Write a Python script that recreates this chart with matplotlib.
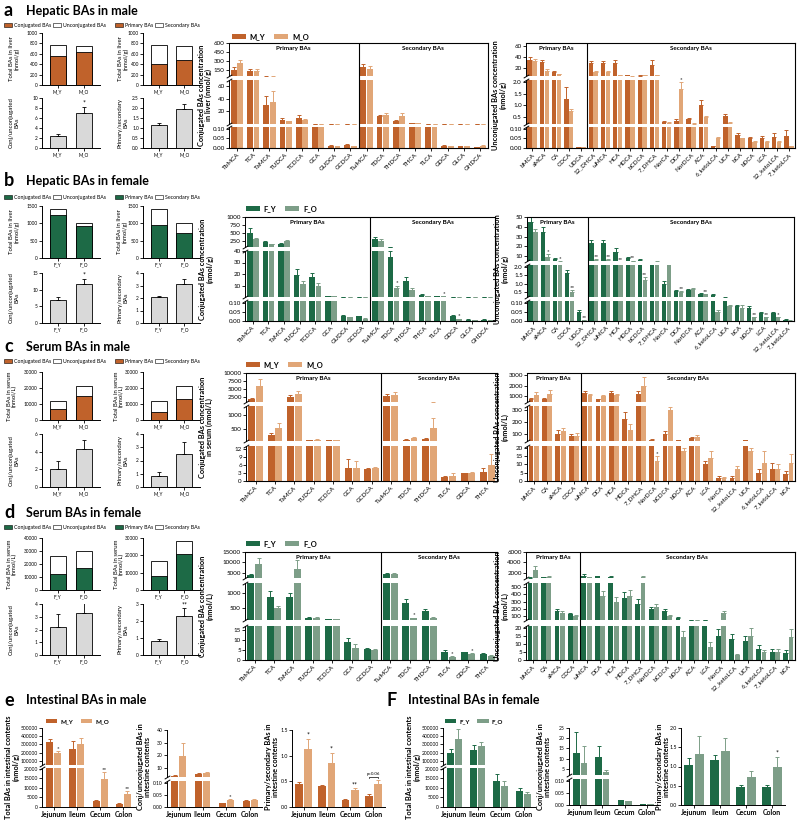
import numpy as np
import matplotlib.pyplot as plt
from matplotlib.patches import Patch

plt.rcParams['font.family'] = ['Lato', 'DejaVu Sans']

W, H = 800, 832
M_COL = ['#C0622B', '#E1A677']
F_COL = ['#1D6A46', '#7D9E88']
GRAY = '#D9D9D9'

# ---------------- data ----------------
male_grp = ['M_Y', 'M_O']
female_grp = ['F_Y', 'F_O']

# hepatic, small plots
a_total = [770, 750]
a_conj = [550, 640]
a_prim = [410, 490]
a_cu, a_cu_err = [2.5, 7.0], [0.3, 1.3]
a_ps, a_ps_err = [1.17, 1.93], [0.08, 0.27]

b_total = [1400, 1000]
b_conj = [1250, 920]
b_prim = [950, 720]
b_cu, b_cu_err = [7.0, 11.8], [0.8, 1.5]
b_ps, b_ps_err = [2.1, 3.1], [0.1, 0.45]

c_total = [12000, 21000]
c_conj = [7000, 15000]
c_prim = [5000, 13000]
c_cu, c_cu_err = [2.0, 4.3], [1.0, 1.0]
c_ps, c_ps_err = [0.8, 2.5], [0.3, 0.9]

d_total = [26000, 30000]
d_conj = [12000, 17000]
d_total2 = [17000, 28000]
d_prim = [8000, 21000]
d_cu, d_cu_err = [2.2, 3.3], [1.0, 0.8]
d_ps, d_ps_err = [0.8, 2.3], [0.15, 0.45]

# hepatic conjugated
liver_conj = ['TbMCA', 'TCA', 'TaMCA', 'TUDCA', 'TCDCA', 'GCA', 'GUDCA', 'GCDCA',
              'TωMCA', 'TDCA', 'THDCA', 'THCA', 'TLCA', 'GDCA', 'GLCA', 'GHDCA']
a_conj_y = [150, 140, 30, 7, 10, 0.5, 0.012, 0.015, 200, 13, 5, 1.5, 0.6, 0.012, 0.010, 0.005]
a_conj_y_err = [50, 30, 15, 2, 4, 0.05, 0.004, 0.004, 50, 2, 1, 0.3, 0.1, 0.003, 0.003, 0.002]
a_conj_o = [260, 140, 35, 4, 7, 0.5, 0.008, 0.010, 170, 15, 13, 1.0, 0.5, 0.008, 0.008, 0.012]
a_conj_o_err = [60, 20, 18, 1, 1, 0.05, 0.002, 0.002, 40, 2, 5, 0.2, 0.1, 0.002, 0.002, 0.004]

b_conj_y = [500, 200, 150, 19, 17, 0.5, 0.03, 0.025, 300, 35, 14, 2, 0.5, 0.03, 0.008, 0.008]
b_conj_y_err = [150, 30, 20, 5, 4, 0.05, 0.005, 0.005, 80, 5, 3, 0.3, 0.05, 0.004, 0.002, 0.002]
b_conj_o = [300, 150, 230, 11, 10, 0.5, 0.02, 0.012, 250, 8, 6, 1.0, 0.5, 0.01, 0.005, 0.006]
b_conj_o_err = [50, 10, 40, 3, 2, 0.05, 0.003, 0.003, 50, 2, 2, 0.2, 0.1, 0.003, 0.001, 0.001]
b_conj_sig = {9: '*', 12: '*', 13: '*'}

# hepatic unconjugated
liver_unc = ['bMCA', 'aMCA', 'CA', 'CDCA', 'UDCA', '12_DHCA', 'ωMCA', 'HCA', 'HDCA', 'bCDCA',
             '7_DHCA', 'NorCA', 'DCA', 'NorDCA', 'ACA', '6_ketoLCA', 'UCA', 'bCA', 'bDCA',
             'LCA', '12_ketoLCA', '7_ketoLCA']
a_unc_y = [35, 30, 12, 1.3, 0.003, 28, 28, 28, 6, 5, 25, 0.3, 0.35, 0.4, 1.0, 0.01, 0.55,
           0.07, 0.05, 0.055, 0.06, 0.065]
a_unc_y_err = [5, 4, 2, 0.5, 0.001, 5, 4, 6, 1, 1, 10, 0.05, 0.05, 0.05, 0.25, 0.003, 0.1,
               0.01, 0.01, 0.01, 0.02, 0.03]
a_unc_o = [33, 15, 8, 0.75, 0.005, 12, 12, 6, 4, 6, 6, 0.25, 1.7, 0.2, 0.5, 0.05, 0.25,
           0.05, 0.03, 0.03, 0.03, 0.01]
a_unc_o_err = [3, 2, 1, 0.1, 0.002, 2, 2, 1, 0.5, 1, 1, 0.03, 0.3, 0.03, 0.05, 0.01, 0.03,
               0.005, 0.005, 0.005, 0.005, 0.003]
a_unc_sig = {12: '*'}

b_unc_y = [45, 35, 7, 1.6, 0.05, 23, 23, 14, 8, 6, 3, 1.0, 0.55, 0.6, 0.4, 0.3, 0.15,
           0.08, 0.07, 0.045, 0.045, 0.008]
b_unc_y_err = [5, 5, 1, 0.2, 0.01, 3, 3, 4, 1, 1, 0.5, 0.15, 0.05, 0.05, 0.05, 0.05, 0.03,
               0.01, 0.01, 0.005, 0.005, 0.002]
b_unc_o = [35, 9, 4, 0.5, 0.003, 6, 6, 3, 5, 1.2, 4, 3, 0.5, 0.7, 0.35, 0.05, 0.08,
           0.07, 0.02, 0.02, 0.02, 0.002]
b_unc_o_err = [3, 3, 0.5, 0.1, 0.001, 1, 1, 0.5, 0.5, 0.2, 0.5, 0.5, 0.05, 0.05, 0.03, 0.01,
               0.01, 0.02, 0.003, 0.003, 0.003, 0.001]
b_unc_sig = {1: '*', 2: '*', 3: '**', 4: '**', 5: '**', 6: '**', 7: '**', 8: '**', 9: '**',
             12: '**', 14: '**', 18: '**', 19: '**', 20: '*'}

# serum conjugated
serum_conj = ['TbMCA', 'TCA', 'TaMCA', 'TUDCA', 'TCDCA', 'GCA', 'GCDCA',
              'TωMCA', 'TDCA', 'THDCA', 'TLCA', 'GDCA', 'THCA']
c_conj_y = [2000, 300, 2500, 130, 130, 5, 4.5, 2800, 150, 160, 1.5, 2.8, 3.5]
c_conj_y_err = [300, 80, 800, 10, 10, 3, 0.3, 600, 20, 30, 0.5, 0.3, 1.5]
c_conj_o = [6000, 550, 3500, 150, 140, 5, 5, 3200, 200, 550, 2, 3, 6]
c_conj_o_err = [2000, 150, 1000, 15, 10, 2.5, 0.3, 800, 30, 350, 1, 0.3, 4]

d_conj_y = [4000, 850, 850, 180, 130, 9, 5.5, 4500, 650, 400, 4, 3.8, 3]
d_conj_y_err = [500, 200, 150, 20, 10, 2, 0.3, 500, 150, 50, 1, 0.3, 0.5]
d_conj_o = [9000, 500, 7000, 170, 120, 6, 5.2, 4500, 150, 180, 1.5, 3, 2]
d_conj_o_err = [3000, 80, 4000, 20, 10, 2, 0.3, 500, 30, 20, 0.3, 0.3, 0.5]
d_conj_sig = {8: '*', 10: '*', 11: '*'}

# serum unconjugated
serum_unc = ['bMCA', 'CA', 'aMCA', 'CDCA', 'ωMCA', 'DCA', 'HCA', 'HDCA', '7_DHCA', 'NorDCA',
             'bCDCA', 'bDCA', 'ACA', 'LCA', 'NorCA', '12_ketoLCA', 'UCA', '6_ketoLCA',
             '7_ketoLCA', 'bCA']
c_unc_y = [700, 700, 100, 80, 1300, 700, 1300, 220, 1200, 50, 95, 45, 65, 10, 2, 2, 45, 5, 7, 4]
c_unc_y_err = [100, 100, 30, 20, 200, 50, 200, 60, 300, 5, 25, 5, 10, 2, 1, 1, 5, 2, 4, 2]
c_unc_o = [1100, 1200, 120, 85, 1100, 1000, 1100, 130, 2000, 12, 300, 18, 75, 14, 2, 7, 18, 11, 7, 11]
c_unc_o_err = [300, 400, 30, 20, 150, 100, 150, 50, 800, 3, 20, 2, 15, 4, 0.5, 2, 2, 7, 3, 5]
c_unc_sig = {9: '*'}

d_unc_y = [1050, 1100, 170, 130, 1400, 1300, 1200, 350, 270, 200, 170, 75, 50, 50, 15, 13,
           12, 7, 5, 4.5]
d_unc_y_err = [100, 100, 30, 20, 300, 100, 100, 80, 60, 30, 30, 10, 5, 5, 4, 3, 3, 2, 2, 1.5]
d_unc_o = [2600, 1200, 140, 110, 1100, 380, 300, 380, 1200, 230, 100, 14, 50, 8, 140, 3, 15,
           5, 5, 14]
d_unc_o_err = [800, 100, 30, 10, 100, 60, 60, 80, 100, 30, 20, 4, 5, 3, 30, 1, 5, 1, 1.5, 5]

# intestine
gut = ['Jejunum', 'Ileum', 'Cecum', 'Colon']
e_tot_y, e_tot_y_err = [330000, 240000, 3200, 1800], [40000, 100000, 300, 200]
e_tot_o, e_tot_o_err = [200000, 310000, 14500, 7000], [20000, 70000, 4000, 1500]
e_tot_sig = {0: '*', 2: '**', 3: '**'}
e_cu_y, e_cu_y_err = [3.5, 5.0, 0.015, 0.025], [0.3, 1.0, 0.002, 0.004]
e_cu_o, e_cu_o_err = [19.5, 5.5, 0.03, 0.03], [10, 1.0, 0.005, 0.004]
e_cu_sig = {2: '*'}
e_ps_y, e_ps_y_err = [0.44, 0.40, 0.14, 0.22], [0.04, 0.03, 0.01, 0.03]
e_ps_o, e_ps_o_err = [1.13, 0.86, 0.33, 0.45], [0.2, 0.2, 0.04, 0.08]
e_ps_sig = {0: '*', 1: '*', 2: '**'}

f_tot_y, f_tot_y_err = [190000, 235000, 13500, 8300], [60000, 60000, 4000, 1500]
f_tot_o, f_tot_o_err = [370000, 285000, 11000, 6700], [120000, 40000, 2500, 1200]
f_cu_y, f_cu_y_err = [13, 11, 0.02, 0.003], [10, 5, 0.003, 0.001]
f_cu_o, f_cu_o_err = [8, 3.5, 0.015, 0.004], [8, 1, 0.002, 0.001]
f_ps_y, f_ps_y_err = [1.03, 1.16, 0.46, 0.46], [0.2, 0.15, 0.05, 0.05]
f_ps_o, f_ps_o_err = [1.33, 1.4, 0.74, 1.0], [0.45, 0.35, 0.15, 0.25]
f_ps_sig = {3: '*'}

# ---------------- helpers ----------------
fig = plt.figure(figsize=(W / 100, H / 100), dpi=100)


def px(x0, y0, x1, y1):
    return [x0 / W, 1 - y1 / H, (x1 - x0) / W, (y1 - y0) / H]


def style(ax, fs=4.5):
    for s in ('top', 'right'):
        ax.spines[s].set_visible(False)
    for s in ('left', 'bottom'):
        ax.spines[s].set_linewidth(0.7)
    ax.tick_params(labelsize=fs, length=2, width=0.6, pad=1)


def ylab(x, yc, text, fs=4.3, bold=False):
    fig.text(x / W, 1 - yc / H, text, rotation=90, ha='center', va='center', fontsize=fs,
             fontweight='bold' if bold else 'normal', linespacing=1.05)


def title(x, y, letter, text):
    fig.text(x / W, 1 - y / H, letter, fontsize=13, fontweight='bold', va='center')
    fig.text((x + 22) / W, 1 - y / H, text, fontsize=9, fontweight='bold', va='center')


def stack_legend(x, y, col, labs):
    h = [Patch(facecolor=col, edgecolor='k', lw=0.4), Patch(facecolor='white', edgecolor='k', lw=0.4)]
    fig.legend(h, labs, loc='center left', bbox_to_anchor=(x / W, 1 - y / H), ncol=2, fontsize=3.8,
               frameon=False, handlelength=1.6, handleheight=0.7, handletextpad=0.3,
               columnspacing=0.3, borderpad=0, borderaxespad=0)


def group_legend(x, y, cols, labs, fs=5.5):
    h = [Patch(facecolor=c) for c in cols]
    leg = fig.legend(h, labs, loc='center left', bbox_to_anchor=(x / W, 1 - y / H), ncol=2,
                     fontsize=fs, frameon=False, handlelength=1.8, handleheight=0.6,
                     handletextpad=0.5, columnspacing=1.2, borderpad=0, borderaxespad=0)
    for t in leg.get_texts():
        t.set_fontweight('bold')


def stacked(rect, grp, part, total, col, tl, label, lx):
    ax = fig.add_axes(px(*rect))
    ax.bar([0, 1], total, 0.62, color='white', edgecolor='k', lw=0.6)
    ax.bar([0, 1], part, 0.62, color=col, edgecolor='k', lw=0.6)
    ax.set_xlim(-0.6, 1.6)
    ax.set_ylim(0, float(tl[-1]))
    ax.set_yticks([float(t) for t in tl], tl)
    ax.set_xticks([0, 1], grp)
    style(ax, 3.4)
    ylab(lx, (rect[1] + rect[3]) / 2, label)


def ratio(rect, grp, vals, errs, tl, label, lx, sig=''):
    ax = fig.add_axes(px(*rect))
    ax.bar([0, 1], vals, 0.62, color=GRAY, edgecolor='k', lw=0.6)
    ax.errorbar([0, 1], vals, yerr=[[0, 0], errs], fmt='none', ecolor='k', elinewidth=0.6,
                capsize=1.5, capthick=0.6)
    if sig:
        ax.text(1, vals[1] + errs[1], sig, ha='center', va='bottom', fontsize=5)
    ax.set_xlim(-0.6, 1.6)
    ax.set_ylim(0, float(tl[-1]))
    ax.set_yticks([float(t) for t in tl], tl)
    ax.set_xticks([0, 1], grp)
    style(ax, 3.4)
    ylab(lx, (rect[1] + rect[3]) / 2, label)


def broken(x0, x1, segs, cats, ya, ya_err, yb, yb_err, cols, n_prim=None, sig=None,
           width=0.36, off=0.2, rot=45, xfs=4.5, yfs=4.5, box=True):
    n = len(cats)
    x = np.arange(n)
    axs = []
    for k, (t, b, lo, hi, tl) in enumerate(segs):
        ax = fig.add_axes(px(x0, t, x1, b))
        for vals, errs, o, c in ((ya, ya_err, -off, cols[0]), (yb, yb_err, off, cols[1])):
            ax.bar(x + o, vals, width, color=c, zorder=2)
            ax.errorbar(x + o, vals, yerr=[np.zeros(n), errs], fmt='none', ecolor=c,
                        elinewidth=0.7, capsize=1.2, capthick=0.7, zorder=3)
        ax.set_xlim(-0.5, n - 0.5)
        ax.set_ylim(lo, hi)
        ax.set_yticks([float(v) for v in tl], tl)
        style(ax, yfs)
        ax.patch.set_alpha(0)
        ax.spines['bottom'].set_visible(k == len(segs) - 1)
        if k < len(segs) - 1:
            ax.set_xticks([])
            ax.plot([0], [0], transform=ax.transAxes, marker=[(-1, -0.6), (1, 0.6)], ms=4,
                    mew=0.7, color='k', clip_on=False)
        else:
            if rot:
                ax.set_xticks(x, cats, rotation=rot, ha='right', rotation_mode='anchor')
            else:
                ax.set_xticks(x, cats)
                for lab in ax.get_xticklabels():
                    lab.set_fontweight('bold')
            ax.tick_params(axis='x', labelsize=xfs)
        if k > 0:
            ax.plot([0], [1], transform=ax.transAxes, marker=[(-1, -0.6), (1, 0.6)], ms=4,
                    mew=0.7, color='k', clip_on=False)
        axs.append(ax)
    for i, s in (sig or {}).items():
        v = yb[i] + yb_err[i]
        for k in range(len(segs) - 1, -1, -1):
            if v <= segs[k][3] or k == 0:
                axs[k].text(i + off, min(v, segs[k][3]), s, ha='center', va='bottom',
                            fontsize=4.5, clip_on=False)
                break
    if box:
        ov = fig.add_axes(px(x0, segs[0][0], x1, segs[-1][1]))
        ov.patch.set_alpha(0)
        ov.set_xlim(-0.5, n - 0.5)
        ov.set_ylim(0, 1)
        ov.set_xticks([])
        ov.set_yticks([])
        ov.spines['left'].set_visible(False)
        for s in ov.spines.values():
            s.set_linewidth(0.8)
        ov.axvline(n_prim - 0.5, color='k', lw=0.8)
        ov.text((n_prim - 1) / 2, 0.97, 'Primary BAs', ha='center', va='top', fontsize=4.5,
                fontweight='bold')
        ov.text((n_prim + n - 1) / 2, 0.97, 'Secondary BAs', ha='center', va='top',
                fontsize=4.5, fontweight='bold')
    return axs


def grouped(rect, cats, ya, ya_err, yb, yb_err, cols, tl, sig=None):
    ax = fig.add_axes(px(*rect))
    x = np.arange(len(cats))
    for vals, errs, o, c in ((ya, ya_err, -0.2, cols[0]), (yb, yb_err, 0.2, cols[1])):
        ax.bar(x + o, vals, 0.34, color=c)
        ax.errorbar(x + o, vals, yerr=[np.zeros(len(x)), errs], fmt='none', ecolor=c,
                    elinewidth=0.7, capsize=1.2, capthick=0.7)
    for i, s in (sig or {}).items():
        ax.text(i + 0.2, yb[i] + yb_err[i], s, ha='center', va='bottom', fontsize=5)
    ax.set_xlim(-0.5, len(cats) - 0.5)
    ax.set_ylim(0, float(tl[-1]))
    ax.set_yticks([float(t) for t in tl], tl)
    ax.set_xticks(x, cats)
    style(ax, 3.8)
    for lab in ax.get_xticklabels():
        lab.set_fontweight('bold')
        lab.set_fontsize(5)
    return ax


# ---------------- a: hepatic male ----------------
title(4, 11, 'a', 'Hepatic BAs in male')
stack_legend(4, 25, M_COL[0], ['Conjugated BAs', 'Unconjugated BAs'])
stack_legend(115, 25, M_COL[0], ['Primary BAs', 'Secondary BAs'])
stacked((42, 33, 100, 85), male_grp, a_conj, a_total, M_COL[0],
        ['0', '200', '400', '600', '800', '1000'], 'Total BAs in liver\n(nmol/g)', 14)
stacked((143, 33, 200, 85), male_grp, a_prim, a_total, M_COL[0],
        ['0', '200', '400', '600', '800', '1000'], 'Total BAs in liver\n(nmol/g)', 123)
ratio((42, 98, 100, 148), male_grp, a_cu, a_cu_err, ['0', '2', '4', '6', '8', '10'],
      'Conj/unconjugated\nBAs', 14, '*')
ratio((143, 98, 200, 148), male_grp, a_ps, a_ps_err, ['0.0', '0.5', '1.0', '1.5', '2.0', '2.5'],
      'Primary/secondary\nBAs', 123)

group_legend(232, 37, M_COL, male_grp)
broken(229, 488, [(43, 76, 50, 600, ['150', '300', '450', '600']),
                  (80, 124, 0, 70, ['20', '40', '60']),
                  (127, 148, 0, 0.11, ['0.00', '0.05', '0.10'])],
       liver_conj, a_conj_y, a_conj_y_err, a_conj_o, a_conj_o_err, M_COL, n_prim=8)
ylab(205, 95, 'Conjugated BAs concentration\nin liver (nmol/g)', 5.3, True)
broken(526, 795, [(43, 76, 5, 65, ['20', '40', '60']),
                  (80, 124, 0.2, 2.1, ['0.5', '1.0', '1.5', '2.0']),
                  (127, 148, 0, 0.11, ['0.00', '0.05', '0.10'])],
       liver_unc, a_unc_y, a_unc_y_err, a_unc_o, a_unc_o_err, M_COL, n_prim=5, sig=a_unc_sig)
ylab(499, 95, 'Unconjugated BAs concentration\n(nmol/g)', 5.3, True)

# ---------------- b: hepatic female ----------------
title(4, 181, 'b', 'Hepatic BAs in female')
stack_legend(4, 197, F_COL[0], ['Conjugated BAs', 'Unconjugated BAs'])
stack_legend(115, 197, F_COL[0], ['Primary BAs', 'Secondary BAs'])
stacked((42, 206, 100, 258), female_grp, b_conj, b_total, F_COL[0],
        ['0', '500', '1000', '1500'], 'Total BAs in liver\n(nmol/g)', 14)
stacked((143, 206, 200, 258), female_grp, b_prim, b_total, F_COL[0],
        ['0', '500', '1000', '1500'], 'Total BAs in liver\n(nmol/g)', 122)
ratio((42, 273, 100, 323), female_grp, b_cu, b_cu_err, ['0', '5', '10', '15'],
      'Conj/unconjugated\nBAs', 14, '*')
ratio((143, 273, 200, 323), female_grp, b_ps, b_ps_err, ['0', '1', '2', '3', '4'],
      'Primary/secondary\nBAs', 123)

group_legend(246, 209, F_COL, female_grp)
broken(245, 495, [(217, 247, 50, 1000, ['250', '500', '750', '1000']),
                  (251, 297, 0, 40, ['10', '20', '30', '40']),
                  (301, 321, 0, 0.11, ['0.00', '0.05', '0.10'])],
       liver_conj, b_conj_y, b_conj_y_err, b_conj_o, b_conj_o_err, F_COL, n_prim=8,
       sig=b_conj_sig)
ylab(206, 269, 'Conjugated BAs concentration\n(nmol/g)', 5.3, True)
broken(527, 794, [(217, 261, 5, 50, ['10', '20', '30', '40', '50']),
                  (265, 297, 0.2, 2.1, ['0.5', '1.0', '1.5', '2.0']),
                  (301, 321, 0, 0.11, ['0.00', '0.05', '0.10'])],
       liver_unc, b_unc_y, b_unc_y_err, b_unc_o, b_unc_o_err, F_COL, n_prim=5, sig=b_unc_sig)
ylab(501, 269, 'Unconjugated BAs concentration\n(nmol/g)', 5.3, True)

# ---------------- c: serum male ----------------
title(4, 347, 'c', 'Serum BAs in male')
stack_legend(4, 361, M_COL[0], ['Conjugated BAs', 'Unconjugated BAs'])
stack_legend(115, 361, M_COL[0], ['Primary BAs', 'Secondary BAs'])
stacked((42, 372, 100, 420), male_grp, c_conj, c_total, M_COL[0],
        ['0', '10000', '20000', '30000'], 'Total BAs in serum\n(nmol/L)', 12)
stacked((143, 372, 200, 420), male_grp, c_prim, c_total, M_COL[0],
        ['0', '10000', '20000', '30000'], 'Total BAs in serum\n(nmol/L)', 119)
ratio((42, 434, 100, 487), male_grp, c_cu, c_cu_err, ['0', '2', '4', '6'],
      'Conj/unconjugated\nBAs', 14)
ratio((143, 434, 200, 487), male_grp, c_ps, c_ps_err, ['0', '1', '2', '3', '4'],
      'Primary/secondary\nBAs', 123)

group_legend(246, 365, M_COL, male_grp)
broken(246, 497, [(373, 402, 1000, 10000, ['2500', '5000', '7500', '10000']),
                  (406, 441, 100, 1300, ['500', '1000']),
                  (446, 481, 0, 13, ['0', '3', '6', '9', '12'])],
       serum_conj, c_conj_y, c_conj_y_err, c_conj_o, c_conj_o_err, M_COL, n_prim=7)
ylab(206, 427, 'Conjugated BAs concentration\nin serum (nmol/L)', 5.3, True)
broken(527, 795, [(373, 402, 450, 3200, ['1000', '2000', '3000']),
                  (406, 441, 40, 330, ['100', '200', '300']),
                  (446, 481, 0, 21, ['0', '5', '10', '15', '20'])],
       serum_unc, c_unc_y, c_unc_y_err, c_unc_o, c_unc_o_err, M_COL, n_prim=4, sig=c_unc_sig)
ylab(501, 427, 'Unconjugated BAs concentration\n(nmol/L)', 5.3, True)

# ---------------- d: serum female ----------------
title(4, 513, 'd', 'Serum BAs in female')
stack_legend(4, 527, F_COL[0], ['Conjugated BAs', 'Unconjugated BAs'])
stack_legend(115, 527, F_COL[0], ['Primary BAs', 'Secondary BAs'])
stacked((42, 538, 100, 590), female_grp, d_conj, d_total, F_COL[0],
        ['0', '10000', '20000', '30000', '40000'], 'Total BAs in serum\n(nmol/L)', 12)
stacked((143, 538, 200, 590), female_grp, d_prim, d_total2, F_COL[0],
        ['0', '10000', '20000', '30000'], 'Total BAs in serum\n(nmol/L)', 119)
ratio((42, 604, 100, 655), female_grp, d_cu, d_cu_err, ['0', '1', '2', '3', '4'],
      'Conj/unconjugated\nBAs', 14)
ratio((143, 604, 200, 655), female_grp, d_ps, d_ps_err, ['0', '1', '2', '3'],
      'Primary/secondary\nBAs', 123, '**')

group_legend(246, 544, F_COL, female_grp)
broken(245, 497, [(552, 578, 2500, 15000, ['5000', '10000', '15000']),
                  (583, 620, 100, 1330, ['500', '1000']),
                  (626, 660, 0, 17, ['0', '5', '10', '15'])],
       serum_conj, d_conj_y, d_conj_y_err, d_conj_o, d_conj_o_err, F_COL, n_prim=7,
       sig=d_conj_sig)
ylab(206, 606, 'Conjugated BAs concentration\n(nmol/L)', 5.3, True)
broken(526, 795, [(552, 578, 1000, 6000, ['2000', '4000', '6000']),
                  (583, 620, 50, 550, ['100', '200', '300', '400', '500']),
                  (626, 660, 0, 21, ['0', '5', '10', '15', '20'])],
       serum_unc, d_unc_y, d_unc_y_err, d_unc_o, d_unc_o_err, F_COL, n_prim=4)
ylab(501, 606, 'Unconjugated BAs concentration\n(nmol/L)', 5.3, True)

# ---------------- e: intestine male ----------------
title(4, 700, 'e', 'Intestinal BAs in male')
group_legend(46, 722, M_COL, male_grp, 4.5)
broken(42, 135, [(728, 765, 50000, 500000,
                  ['100000', '200000', '300000', '400000', '500000']),
                 (768, 807, 0, 20500, ['0', '5000', '10000', '15000', '20000'])],
       gut, e_tot_y, e_tot_y_err, e_tot_o, e_tot_o_err, M_COL, sig=e_tot_sig,
       width=0.3, off=0.17, rot=0, xfs=5, yfs=3.6, box=False)
ylab(12, 767, 'Total BAs in intestinal contents\n(nmol/g)', 5.3, True)
broken(167, 262, [(730, 777, 2.5, 40, ['10', '20', '30', '40']),
                  (781, 807, 0, 0.11, ['0.00', '0.05', '0.10'])],
       gut, e_cu_y, e_cu_y_err, e_cu_o, e_cu_o_err, M_COL, sig=e_cu_sig,
       width=0.3, off=0.17, rot=0, xfs=5, yfs=3.6, box=False)
ylab(144, 767, 'Conj/unconjugated BAs in\nintestine contents', 5.3, True)
ax_e3 = grouped((292, 730, 385, 807), gut, e_ps_y, e_ps_y_err, e_ps_o, e_ps_o_err, M_COL,
                ['0.0', '0.5', '1.0', '1.5'], e_ps_sig)
ax_e3.plot([2.8, 2.8, 3.2, 3.2], [0.56, 0.59, 0.59, 0.56], color='k', lw=0.5)
ax_e3.text(3.0, 0.6, 'p=0.06', ha='center', va='bottom', fontsize=3.2)
ylab(272, 767, 'Primary/secondary BAs in\nintestine contents', 5.3, True)

# ---------------- F: intestine female ----------------
title(386, 700, 'F', 'Intestinal BAs in female')
group_legend(445, 722, F_COL, female_grp, 4.5)
broken(443, 535, [(728, 765, 50000, 500000,
                   ['100000', '200000', '300000', '400000', '500000']),
                  (768, 807, 0, 20500, ['0', '5000', '10000', '15000', '20000'])],
       gut, f_tot_y, f_tot_y_err, f_tot_o, f_tot_o_err, F_COL,
       width=0.3, off=0.17, rot=0, xfs=5, yfs=3.6, box=False)
ylab(413, 767, 'Total BAs in intestinal contents\n(nmol/g)', 5.3, True)
broken(569, 658, [(728, 775, 2, 25, ['5', '10', '15', '20', '25']),
                  (779, 805, 0, 0.11, ['0.00', '0.05', '0.10'])],
       gut, f_cu_y, f_cu_y_err, f_cu_o, f_cu_o_err, F_COL,
       width=0.3, off=0.17, rot=0, xfs=5, yfs=3.6, box=False)
ylab(544, 767, 'Conj/unconjugated BAs in\nintestine contents', 5.3, True)
grouped((681, 728, 785, 805), gut, f_ps_y, f_ps_y_err, f_ps_o, f_ps_o_err, F_COL,
        ['0.0', '0.5', '1.0', '1.5', '2.0'], f_ps_sig)
ylab(663, 767, 'Primary/secondary BAs in\nintestine contents', 5.3, True)

fig.savefig('out.png', dpi=100)
